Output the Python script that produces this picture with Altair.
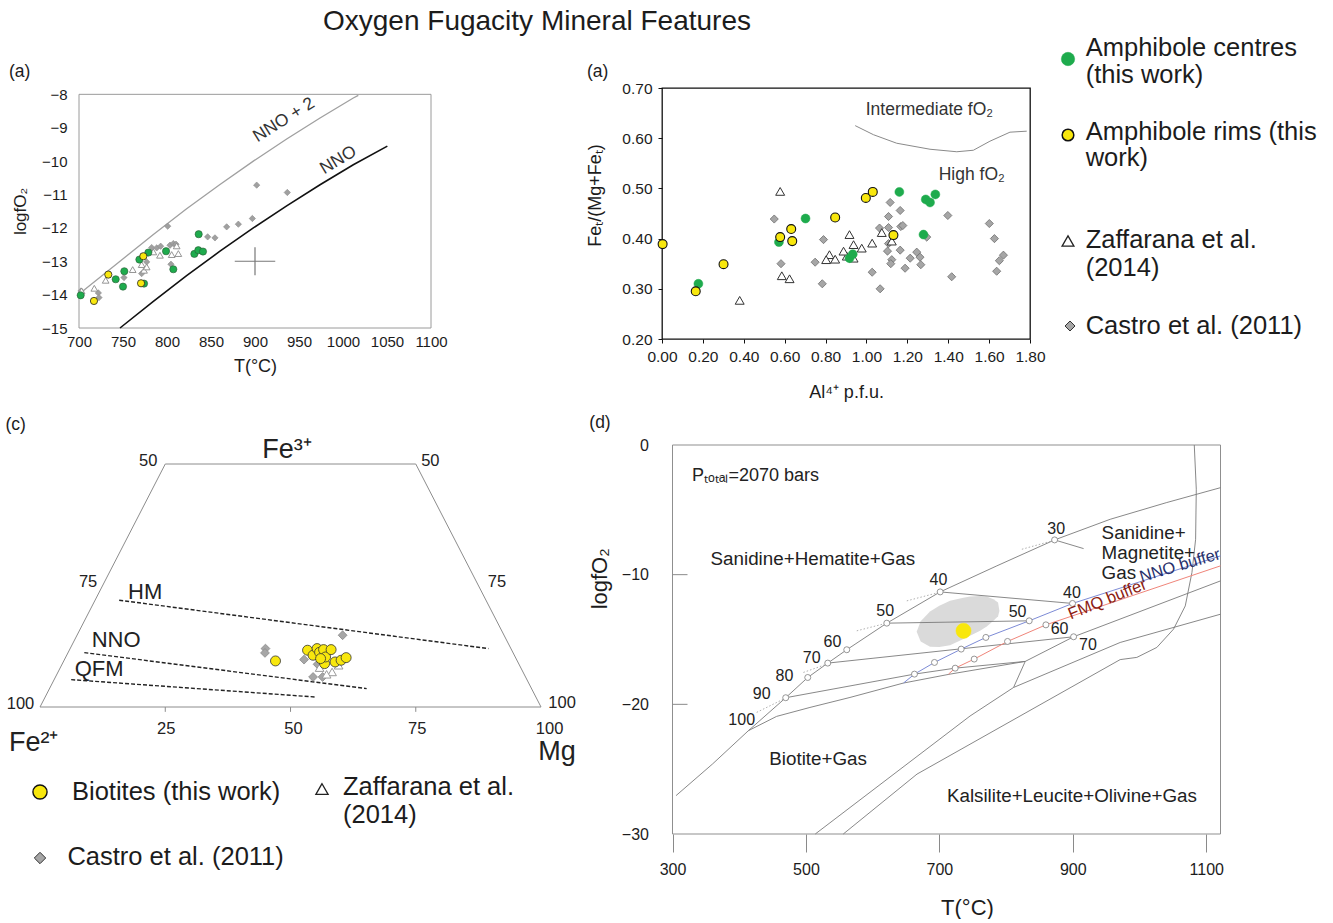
import altair as alt
import pandas as pd

FONT = "Liberation Sans"
INK = "#1c1c1c"
GREEN = "#1eab4d"
YELLOW = "#f8e70d"
GREY_FILL = "#a6a6a6"
GREY_EDGE = "#6f6f6f"

# ================= panel (a): T vs logfO2 =================
A_XTICKS = [700, 750, 800, 850, 900, 950, 1000, 1050, 1100]
A_YTICKS = [-15, -14, -13, -12, -11, -10, -9, -8]
A_FRAME_T = [700, 1100]
A_FRAME_Y = [-15, -8]
A_NNO2_T = [703.0, 746.6, 784.5, 822.3, 860.2, 898.1, 936.0, 973.9, 1011.7, 1017.4]
A_NNO2_Y = [-13.92, -13.00, -12.20, -11.43, -10.70, -10.00, -9.34, -8.71, -8.11, -8.03]
A_NNO_T = [746.6, 784.5, 822.3, 860.2, 898.1, 936.0, 973.9, 1011.7, 1050.4]
A_NNO_Y = [-15.00, -14.20, -13.43, -12.70, -12.00, -11.34, -10.71, -10.11, -9.55]
A_GREEN_T = [701.9, 741.7, 750.0, 751.5, 768.6, 773.9, 778.8, 798.9, 807.2, 831.1, 836.0, 835.6, 840.9]
A_GREEN_Y = [-14.02, -13.54, -13.76, -13.30, -12.95, -13.67, -12.74, -12.70, -13.24, -12.78, -12.19, -12.67, -12.71]
A_YELLOW_T = [717.0, 733.3, 773.1, 770.5]
A_YELLOW_Y = [-14.19, -13.40, -12.85, -13.66]
A_ZAF_T = [703.0, 717.4, 730.3, 761.0, 771.2, 773.9, 776.9, 784.5, 792.0, 805.3, 811.0, 812.9]
A_ZAF_Y = [-13.89, -13.81, -13.57, -13.25, -13.10, -13.27, -13.17, -12.72, -12.82, -12.80, -12.54, -12.77]
A_CAS_T = [702.3, 722.0, 722.7, 751.1, 771.2, 776.9, 782.6, 788.3, 792.8, 800.8, 803.4, 804.5,
           807.2, 810.2, 846.2, 854.5, 867.8, 881.1, 897.0, 901.9, 936.7]
A_CAS_Y = [-13.89, -13.95, -14.09, -13.49, -13.37, -13.02, -12.59, -12.60, -12.55, -11.95, -12.52, -13.09,
           -12.47, -12.49, -12.27, -12.30, -11.97, -11.89, -11.72, -10.72, -10.94]
A_ERR_T, A_ERR_Y, A_ERR_DT, A_ERR_DY = 900, -13.0, 23, 0.42

# ================= panel (b): Al(IV) vs Fe/(Mg+Fe) =================
B_XTICKS = [0, 0.2, 0.4, 0.6, 0.8, 1.0, 1.2, 1.4, 1.6, 1.8]
B_YTICKS = [0.2, 0.3, 0.4, 0.5, 0.6, 0.7]
B_CURVE_X = [0.945, 1.034, 1.148, 1.311, 1.442, 1.523, 1.604, 1.702, 1.784]
B_CURVE_Y = [0.625, 0.607, 0.590, 0.578, 0.573, 0.576, 0.594, 0.612, 0.614]
B_YELLOW_X = [0.003, 0.165, 0.301, 0.578, 0.632, 0.637, 0.847, 0.997, 1.031, 1.132]
B_YELLOW_Y = [0.389, 0.295, 0.349, 0.403, 0.419, 0.395, 0.442, 0.481, 0.493, 0.407]
B_GREEN_X = [0.178, 0.572, 0.702, 0.917, 0.933, 1.161, 1.279, 1.290, 1.311, 1.337]
B_GREEN_Y = [0.310, 0.393, 0.440, 0.361, 0.369, 0.493, 0.408, 0.478, 0.472, 0.488]
B_ZAF_X = [0.578, 0.380, 0.586, 0.624, 0.819, 0.803, 0.847, 0.917, 0.937, 0.977, 1.028, 1.075,
           0.904, 0.937, 1.124, 0.888]
B_ZAF_Y = [0.494, 0.277, 0.326, 0.320, 0.368, 0.358, 0.359, 0.408, 0.388, 0.381, 0.391, 0.412,
           0.365, 0.361, 0.395, 0.375]
B_CAS_X = [0.549, 0.582, 0.790, 0.749, 0.784, 1.028, 1.067, 1.064, 1.108, 1.116, 1.108, 1.103, 1.124,
           1.119, 1.165, 1.168, 1.178, 1.165, 1.189, 1.214, 1.246, 1.262, 1.266, 1.295, 1.398, 1.417,
           1.601, 1.626, 1.637, 1.650, 1.670, 1.108]
B_CAS_Y = [0.439, 0.350, 0.398, 0.353, 0.310, 0.333, 0.300, 0.421, 0.444, 0.472, 0.422, 0.375, 0.358,
           0.350, 0.456, 0.424, 0.426, 0.377, 0.341, 0.361, 0.373, 0.363, 0.348, 0.403, 0.446, 0.324,
           0.430, 0.400, 0.335, 0.356, 0.367, 0.390]
B_NOTE_TXT = ["Intermediate fO₂", "High fO₂"]
B_NOTE_X = [1.308, 1.515]
B_NOTE_Y = [0.657, 0.527]

# ================= panel (c): Fe3+ - Fe2+ - Mg ternary =================
C_FRAME_X = [0, 25, 75, 100, 0]
C_FRAME_Y = [0, 50, 50, 0, 0]
C_TICK_X = [25, 50, 75]
C_BUF = {"HM": ([15.8, 89.5], [21.98, 12.02]),
         "NNO": ([8.84, 65.2], [11.20, 3.78]),
         "QFM": ([6.22, 54.9], [5.63, 2.06])}
C_BUF_LBL_X = [21.0, 15.2, 11.8]
C_BUF_LBL_Y = [23.7, 13.8, 7.8]
C_NUM_TXT = ["100", "75", "50", "50", "75", "100", "25", "50", "75", "100"]
C_NUM_X = [-3.9, 9.6, 21.6, 77.9, 91.2, 104.2, 25.2, 50.6, 75.3, 101.7]
C_NUM_Y = [0.6, 25.8, 50.6, 50.6, 25.8, 0.9, -4.6, -4.6, -4.6, -4.6]
C_BIO_X = [47.0, 53.4, 54.5, 55.3, 55.8, 56.6, 56.8, 57.0, 58.1, 58.9, 60.1, 61.1, 56.0]
C_BIO_Y = [9.48, 11.68, 10.65, 12.02, 11.26, 11.81, 8.93, 10.30, 11.81, 9.27, 9.62, 10.16, 9.96]
C_CAS_X = [45.0, 44.9, 52.7, 54.5, 56.4, 60.4, 55.4]
C_CAS_Y = [12.02, 11.13, 9.75, 6.18, 6.18, 14.77, 8.79]
C_ZAF_X = [58.3, 55.8, 57.2, 59.6]
C_ZAF_Y = [7.21, 8.10, 6.73, 8.59]

# ================= panel (d): T vs logfO2 phase diagram =================
D_XTICKS = [300, 500, 700, 900, 1100]
D_YTICKS = [0, -10, -20, -30]
D_INNER_TICKS = [-10, -20]
D_FRAME_T = [300, 1121.4]
D_FRAME_Y = [-30, 0]
D_LINES = {
    "L1": ([305.3, 360, 413.8, 469.7, 502.7, 532.7, 561.2, 621.2, 701.2, 786.2, 872.7, 956, 1040, 1121.4],
           [-27.04, -24.6, -22.03, -19.49, -17.93, -16.82, -15.79, -13.74, -11.33, -9.32, -7.32, -5.73, -4.45, -3.29]),
    "L2": ([413.8, 456, 506, 566, 646, 716, 828.7],
           [-22.03, -20.93, -20.24, -19.47, -18.36, -17.67, -16.69]),
    "L3": ([469.7, 662.7, 723.7, 828.7], [-19.49, -17.67, -17.21, -16.69]),
    "L2b": ([828.7, 901.2, 1121.4], [-16.69, -14.79, -10.48]),
    "kink": ([828.7, 811.2], [-16.69, -18.70]),
    "K1": ([514, 746, 811.2, 971, 1121.4], [-30, -20.9, -18.7, -15.23, -13.05]),
    "K2": ([556, 666.5, 971, 996, 1026, 1051, 1068.6, 1078.6, 1084.1, 1085.1, 1082.1],
           [-30, -25.38, -16.55, -16.38, -15.61, -14.2, -12.41, -9.83, -7.27, -3.41, 0]),
    "t70": ([532.7, 901.2], [-16.82, -14.79]),
    "t50": ([621.2, 834.7], [-13.74, -13.56]),
    "t40": ([701.2, 899.6], [-11.33, -12.22]),
    "t30": ([872.7, 916.2], [-7.32, -7.99]),
}
D_DOTTED = {
    "d30": ([823.7, 868.7], [-8.04, -7.40]),
    "d40": ([651.2, 698.7], [-12.02, -11.38]),
    "d50": ([576.2, 618.7], [-14.33, -13.77]),
    "d70": ([496.2, 531.2], [-17.54, -16.90]),
    "d90": ([426.2, 466.2], [-20.62, -19.60]),
}
D_NNO_T = [646.2, 662.7, 692.7, 732.7, 769.7, 834.7, 899.6, 1121.4]
D_NNO_Y = [-18.36, -17.67, -16.77, -15.74, -14.84, -13.56, -12.22, -8.55]
D_FMQ_T = [713.7, 723.7, 752.2, 802.2, 859.7, 1121.4]
D_FMQ_Y = [-17.67, -17.21, -16.51, -15.15, -13.87, -9.32]
D_CIRC_T = [469.7, 502.7, 532.7, 561.2, 621.2, 701.2, 872.7, 899.6, 834.7, 901.2,
            662.7, 692.7, 732.7, 769.7, 723.7, 752.2, 802.2, 859.7]
D_CIRC_Y = [-19.49, -17.93, -16.82, -15.79, -13.74, -11.33, -7.32, -12.22, -13.56, -14.79,
            -17.67, -16.77, -15.74, -14.84, -17.21, -16.51, -15.15, -13.87]
D_ELL_T = [666, 672, 686, 700, 716, 736, 746, 761, 771, 781, 788, 790]
D_ELL_LO = [-14.4, -15.15, -15.56, -15.58, -15.45, -14.97, -14.72, -14.33, -14.0, -13.56, -13.2, -12.8]
D_ELL_HI = [-14.4, -13.6, -12.85, -12.4, -12.02, -11.78, -11.68, -11.65, -11.68, -11.9, -12.15, -12.8]
D_BIO_T = [736.2]
D_BIO_Y = [-14.33]
D_NUM_TXT = ["100", "90", "80", "70", "60", "50", "40", "30", "40", "50", "60", "70"]
D_NUM_T = [403.7, 433.7, 467.7, 508.7, 539.7, 618.7, 698.7, 875.2, 898.7, 817.2, 880.2, 922.7]
D_NUM_Y = [-21.2, -19.21, -17.85, -16.44, -15.23, -12.79, -10.40, -6.50, -11.38, -12.87, -14.20, -15.43]
D_REGION_TXT = ["Sanidine+Hematite+Gas", "Biotite+Gas", "Kalsilite+Leucite+Olivine+Gas"]
D_REGION_T = [510.4, 518.2, 898.7]
D_REGION_Y = [-8.81, -24.22, -27.05]
D_SMG_TXT = ["Sanidine+", "Magnetite+", "Gas"]
D_SMG_T = [943.2, 943.2, 943.2]
D_SMG_Y = [-6.75, -8.35, -9.91]
D_P_TXT = ["Pₜₒₜₐₗ=2070 bars"]
D_P_T = [329.2]
D_P_Y = [-2.39]

ONE = pd.DataFrame({"k": [0]})


def pts(xs, ys):
    return pd.DataFrame({"x": xs, "y": ys})


def poly(xs, ys):
    return pd.DataFrame({"x": xs, "y": ys, "i": list(range(len(xs)))})


def groups(d):
    rows = []
    for g, (xs, ys) in d.items():
        for i, (x, y) in enumerate(zip(xs, ys)):
            rows.append({"g": g, "i": i, "x": x, "y": y})
    return pd.DataFrame(rows)


def texts(t, xs, ys):
    return pd.DataFrame({"t": t, "x": xs, "y": ys})


def box(xs, ys):
    return pd.DataFrame({"x": [xs[0]], "x2": [xs[1]], "y": [ys[0]], "y2": [ys[1]]})


def vtext(text, x, y, size, align="left", color=INK):
    return alt.Chart(ONE).mark_text(text=text, align=align, baseline="middle", fontSize=size,
                                    color=color, font=FONT).encode(x=alt.value(x), y=alt.value(y))


def vsym(x, y, shape, size, fill, stroke, sw):
    return alt.Chart(ONE).mark_point(shape=shape, size=size, filled=True, fill=fill, stroke=stroke,
                                     strokeWidth=sw, opacity=1).encode(x=alt.value(x), y=alt.value(y))


def axis(values, title, size, tsize, **kw):
    return alt.Axis(values=values, title=title, labelFontSize=size, titleFontSize=tsize, grid=False,
                    labelFlush=False, labelOverlap=False, titleFontWeight="normal",
                    labelColor=INK, titleColor=INK, titleBaseline="middle", titleAlign="center", **kw)


# ---------------- panel (a) ----------------
XA = alt.X("x:Q", scale=alt.Scale(domain=[700, 1100], nice=False, zero=False),
           axis=axis(A_XTICKS, "T(°C)", 15, 18, format="d", domain=False, ticks=False, tickSize=0,
                     labelPadding=6, titleX=176, titleY=38))
YA = alt.Y("y:Q", scale=alt.Scale(domain=[-15, -7.81], nice=False, zero=False),
           axis=axis(A_YTICKS, "logfO₂", 15, 17, format="d", domain=False, ticks=False, tickSize=0,
                     labelPadding=12, titleX=-59, titleY=123, titleAngle=270))

a_frame = alt.Chart(box(A_FRAME_T, A_FRAME_Y)).mark_rect(
    fillOpacity=0, stroke="#9a9a9a", strokeWidth=1).encode(x=XA, x2=alt.X2("x2"), y=YA, y2=alt.Y2("y2"))
a_nno2 = alt.Chart(poly(A_NNO2_T, A_NNO2_Y)).mark_line(color="#a0a0a0", strokeWidth=1.3).encode(
    x=XA, y=YA, order="i:Q")
a_nno = alt.Chart(poly(A_NNO_T, A_NNO_Y)).mark_line(color="#111111", strokeWidth=1.6).encode(
    x=XA, y=YA, order="i:Q")
a_err = alt.Chart(pd.DataFrame({
    "x": [A_ERR_T - A_ERR_DT, A_ERR_T], "x2": [A_ERR_T + A_ERR_DT, A_ERR_T],
    "y": [A_ERR_Y, A_ERR_Y - A_ERR_DY], "y2": [A_ERR_Y, A_ERR_Y + A_ERR_DY]})).mark_rule(
    color="#777777", strokeWidth=1.2).encode(x=XA, x2=alt.X2("x2"), y=YA, y2=alt.Y2("y2"))
a_cas = alt.Chart(pts(A_CAS_T, A_CAS_Y)).mark_point(shape="diamond", filled=True, fill="#a0a0a0",
                                                    stroke="#8c8c8c", strokeWidth=0.6, size=40,
                                                    opacity=1).encode(x=XA, y=YA)
a_zaf = alt.Chart(pts(A_ZAF_T, A_ZAF_Y)).mark_point(shape="triangle-up", filled=True, fill="white",
                                                    stroke="#8a8a8a", strokeWidth=0.9, size=45,
                                                    opacity=1).encode(x=XA, y=YA)
a_green = alt.Chart(pts(A_GREEN_T, A_GREEN_Y)).mark_point(shape="circle", filled=True, fill=GREEN,
                                                          stroke="#2c5a36", strokeWidth=0.6, size=52,
                                                          opacity=1).encode(x=XA, y=YA)
a_yel = alt.Chart(pts(A_YELLOW_T, A_YELLOW_Y)).mark_point(shape="circle", filled=True, fill=YELLOW,
                                                          stroke="#222222", strokeWidth=0.8, size=52,
                                                          opacity=1).encode(x=XA, y=YA)
a_t1 = alt.Chart(texts(["NNO + 2"], [933.0], [-8.77])).mark_text(
    fontSize=17.5, font=FONT, color="#333333", angle=328).encode(x=XA, y=YA, text="t:N")
a_t2 = alt.Chart(texts(["NNO"], [994.7], [-9.97])).mark_text(
    fontSize=17.5, font=FONT, color="#333333", angle=329).encode(x=XA, y=YA, text="t:N")
anchor = alt.Chart(ONE).mark_rule(strokeWidth=0.02, strokeOpacity=0).encode(
    x=alt.value(-79), x2=alt.value(-78.98), y=alt.value(-88), y2=alt.value(-88))

panel_a = alt.layer(
    a_frame, a_nno2, a_nno, a_err, a_cas, a_zaf, a_green, a_yel, a_t1, a_t2,
    vtext("(a)", -70, -16, 17.5),
    vtext("Oxygen Fugacity Mineral Features", 458, -66, 28, align="center"),
    anchor,
).properties(width=352, height=240)

# ---------------- panel (b) ----------------
XB = alt.X("x:Q", scale=alt.Scale(domain=[0, 1.8], nice=False, zero=False),
           axis=axis(B_XTICKS, "Al⁴⁺ p.f.u.", 15.5, 18, format=".2f", domain=False, ticks=True,
                     tickSize=4, tickColor="#111", labelPadding=6, titleX=184, titleY=53))
YB = alt.Y("y:Q", scale=alt.Scale(domain=[0.2, 0.7], nice=False, zero=False),
           axis=axis(B_YTICKS, "Feₜ/(Mg+Feₜ)", 15.5, 18, format=".2f", domain=False, ticks=True,
                     tickSize=4, tickColor="#111", labelPadding=6, titleX=-67, titleY=107,
                     titleAngle=270))

b_curve = alt.Chart(poly(B_CURVE_X, B_CURVE_Y)).mark_line(color="#8a8a8a", strokeWidth=1).encode(
    x=XB, y=YB, order="i:Q")
b_cas = alt.Chart(pts(B_CAS_X, B_CAS_Y)).mark_point(shape="diamond", filled=True, fill=GREY_FILL,
                                                    stroke=GREY_EDGE, strokeWidth=0.8, size=66,
                                                    opacity=1).encode(x=XB, y=YB)
b_zaf = alt.Chart(pts(B_ZAF_X, B_ZAF_Y)).mark_point(shape="triangle-up", filled=True, fill="white",
                                                    stroke="#333333", strokeWidth=1, size=80,
                                                    opacity=1).encode(x=XB, y=YB)
b_green = alt.Chart(pts(B_GREEN_X, B_GREEN_Y)).mark_point(shape="circle", filled=True, fill=GREEN,
                                                          stroke=GREEN, strokeWidth=0.5, size=80,
                                                          opacity=1).encode(x=XB, y=YB)
b_yel = alt.Chart(pts(B_YELLOW_X, B_YELLOW_Y)).mark_point(shape="circle", filled=True, fill=YELLOW,
                                                          stroke="#111111", strokeWidth=1.1, size=80,
                                                          opacity=1).encode(x=XB, y=YB)
b_notes = alt.Chart(texts(B_NOTE_TXT, B_NOTE_X, B_NOTE_Y)).mark_text(
    fontSize=17.5, font=FONT, color="#333333").encode(x=XB, y=YB, text="t:N")

LEG = 25.5
panel_b = alt.layer(
    b_curve, b_cas, b_zaf, b_green, b_yel, b_notes,
    vtext("(a)", -75, -16, 17.5),
    vsym(406, -29, "circle", 180, GREEN, GREEN, 0.5),
    vtext("Amphibole centres", 423.7, -40, LEG),
    vtext("(this work)", 423.7, -13, LEG),
    vsym(406, 47, "circle", 135, YELLOW, "#111111", 1.5),
    vtext("Amphibole rims (this", 423.7, 43.5, LEG),
    vtext("work)", 423.7, 69.5, LEG),
    vsym(406, 153, "triangle-up", 140, "white", "#222222", 1.3),
    vtext("Zaffarana et al.", 423.7, 152, LEG),
    vtext("(2014)", 423.7, 180, LEG),
    vsym(408, 238, "diamond", 100, GREY_FILL, "#333333", 1),
    vtext("Castro et al. (2011)", 423.7, 238, LEG),
).properties(width=368, height=251, view=alt.ViewBackground(stroke="#111111", strokeWidth=1.3))

# ---------------- panel (c) ----------------
C_W = 352
XC = alt.X("x:Q", scale=alt.Scale(domain=[7.78, 7.78 + C_W / 5.01], nice=False, zero=False), axis=None)
YC = alt.Y("y:Q", scale=alt.Scale(domain=[-26.13, 53.91], nice=False, zero=False), axis=None)

c_frame = alt.Chart(poly(C_FRAME_X, C_FRAME_Y)).mark_line(color="#8c8c8c", strokeWidth=1).encode(
    x=XC, y=YC, order="i:Q")
c_ticks = alt.Chart(pd.DataFrame({"x": C_TICK_X, "y": [0] * 3, "y2": [-1.0] * 3})).mark_rule(
    color="#8c8c8c").encode(x=XC, y=YC, y2=alt.Y2("y2"))
c_buf = alt.Chart(groups(C_BUF)).mark_line(color="#222222", strokeWidth=1.4, strokeDash=[4, 2]).encode(
    x=XC, y=YC, detail="g:N", order="i:Q")
c_buf_lbl = alt.Chart(texts(list(C_BUF.keys()), C_BUF_LBL_X, C_BUF_LBL_Y)).mark_text(
    fontSize=22, font=FONT, color="#222222").encode(x=XC, y=YC, text="t:N")
c_nums = alt.Chart(texts(C_NUM_TXT, C_NUM_X, C_NUM_Y)).mark_text(
    fontSize=16.5, font=FONT, color="#222222").encode(x=XC, y=YC, text="t:N")
c_fe3 = alt.Chart(texts(["Fe³⁺"], [49.3], [52.9])).mark_text(
    fontSize=27, font=FONT, color="#222222").encode(x=XC, y=YC, text="t:N")
c_fe2 = alt.Chart(texts(["Fe²⁺"], [-6.2], [-7.5])).mark_text(
    fontSize=27, font=FONT, color="#222222", align="left").encode(x=XC, y=YC, text="t:N")
c_mg = alt.Chart(texts(["Mg"], [103.2], [-9.2])).mark_text(
    fontSize=27, font=FONT, color="#222222").encode(x=XC, y=YC, text="t:N")
c_cas = alt.Chart(pts(C_CAS_X, C_CAS_Y)).mark_point(shape="diamond", filled=True, fill=GREY_FILL,
                                                    stroke="#8a8a8a", strokeWidth=0.8, size=78,
                                                    opacity=1).encode(x=XC, y=YC)
c_zaf = alt.Chart(pts(C_ZAF_X, C_ZAF_Y)).mark_point(shape="triangle-up", filled=True, fill="white",
                                                    stroke="#9a9a9a", strokeWidth=1, size=75,
                                                    opacity=1).encode(x=XC, y=YC)
c_bio = alt.Chart(pts(C_BIO_X, C_BIO_Y)).mark_point(shape="circle", filled=True, fill=YELLOW,
                                                    stroke="#333333", strokeWidth=0.8, size=100,
                                                    opacity=1).encode(x=XC, y=YC)

panel_c = alt.layer(
    c_frame, c_ticks, c_buf, c_buf_lbl, c_nums, c_fe3, c_fe2, c_mg, c_cas, c_zaf, c_bio,
    vtext("(c)", -73.5, -20, 17.5),
    vsym(-39, 347, "circle", 200, YELLOW, "#111111", 1.4),
    vtext("Biotites (this work)", -7, 346.7, LEG),
    vsym(243, 344, "triangle-up", 150, "white", "#222222", 1.3),
    vtext("Zaffarana et al.", 264, 341.7, LEG),
    vtext("(2014)", 264, 370, LEG),
    vsym(-39, 413, "diamond", 130, GREY_FILL, "#333333", 1),
    vtext("Castro et al. (2011)", -11.6, 411.7, LEG),
).properties(width=C_W, height=389)

# ---------------- panel (d) ----------------
D_SHIFT = 10.5          # the (d) frame starts 10.5 px right of its grid column
D_PX = 0.6668           # px per degree C
XD = alt.X("x:Q", scale=alt.Scale(domain=[300 - D_SHIFT / D_PX, 1121.4], nice=False, zero=False),
           axis=axis(D_XTICKS, "T(°C)", 16, 22, format="d", domain=False, ticks=True, tickSize=18,
                     tickColor="#8a8a8a", labelPadding=9, titleX=294.5 + D_SHIFT, titleY=73.6))
YD = alt.Y("y:Q", scale=alt.Scale(domain=[-30, 0], nice=False, zero=False),
           axis=axis(D_YTICKS, "logfO₂", 16, 22, format="d", domain=False, ticks=False, tickSize=0,
                     labelPadding=24 - D_SHIFT, titleX=-73 + D_SHIFT, titleY=133.3, titleAngle=270))

d_ell = alt.Chart(pd.DataFrame({"x": D_ELL_T, "y": D_ELL_LO, "y2": D_ELL_HI})).mark_area(
    color="#dadada", opacity=1).encode(x=XD, y=YD, y2=alt.Y2("y2"))
d_frame = alt.Chart(box(D_FRAME_T, D_FRAME_Y)).mark_rect(
    fillOpacity=0, stroke="#8f8f8f", strokeWidth=1).encode(x=XD, x2=alt.X2("x2"), y=YD, y2=alt.Y2("y2"))
d_inticks = alt.Chart(pd.DataFrame({"y": D_INNER_TICKS})).mark_rule(color="#8a8a8a").encode(
    y=YD, x=alt.value(D_SHIFT), x2=alt.value(D_SHIFT + 15))
d_lines = alt.Chart(groups(D_LINES)).mark_line(color="#7a7a7a", strokeWidth=0.9).encode(
    x=XD, y=YD, detail="g:N", order="i:Q")
d_dots = alt.Chart(groups(D_DOTTED)).mark_line(color="#b0b0b0", strokeWidth=1, strokeDash=[1.5, 2]).encode(
    x=XD, y=YD, detail="g:N", order="i:Q")
d_nno = alt.Chart(poly(D_NNO_T, D_NNO_Y)).mark_line(color="#7d8bd6", strokeWidth=1).encode(
    x=XD, y=YD, order="i:Q")
d_fmq = alt.Chart(poly(D_FMQ_T, D_FMQ_Y)).mark_line(color="#f0857a", strokeWidth=1).encode(
    x=XD, y=YD, order="i:Q")
d_circ = alt.Chart(pts(D_CIRC_T, D_CIRC_Y)).mark_point(shape="circle", filled=True, fill="white",
                                                       stroke="#8a8a8a", strokeWidth=0.9, size=36,
                                                       opacity=1).encode(x=XD, y=YD)
d_bio = alt.Chart(pts(D_BIO_T, D_BIO_Y)).mark_point(shape="circle", filled=True, fill=YELLOW,
                                                    stroke=YELLOW, strokeWidth=0.5, size=230,
                                                    opacity=1).encode(x=XD, y=YD)
d_nums = alt.Chart(texts(D_NUM_TXT, D_NUM_T, D_NUM_Y)).mark_text(
    fontSize=16, font=FONT, color="#222222").encode(x=XD, y=YD, text="t:N")
d_regions = alt.Chart(texts(D_REGION_TXT, D_REGION_T, D_REGION_Y)).mark_text(
    fontSize=18.8, font=FONT, color="#222222").encode(x=XD, y=YD, text="t:N")
d_smg = alt.Chart(texts(D_SMG_TXT, D_SMG_T, D_SMG_Y)).mark_text(
    fontSize=18.8, font=FONT, color="#222222", align="left").encode(x=XD, y=YD, text="t:N")
d_p = alt.Chart(texts(D_P_TXT, D_P_T, D_P_Y)).mark_text(
    fontSize=18, font=FONT, color="#222222", align="left").encode(x=XD, y=YD, text="t:N")
d_nno_lbl = alt.Chart(texts(["NNO buffer"], [1060.6], [-9.3])).mark_text(
    fontSize=16.5, font=FONT, color="#27306b", angle=343.5).encode(x=XD, y=YD, text="t:N")
d_fmq_lbl = alt.Chart(texts(["FMQ buffer"], [952], [-11.9])).mark_text(
    fontSize=16.5, font=FONT, color="#8c1c13", angle=338).encode(x=XD, y=YD, text="t:N")

panel_d = alt.layer(
    d_ell, d_frame, d_inticks, d_lines, d_dots, d_nno, d_fmq, d_circ, d_bio, d_nums, d_regions, d_smg,
    d_p, d_nno_lbl, d_fmq_lbl,
    vtext("(d)", -83.2 + D_SHIFT, -21.7, 17.5),
).properties(width=548 + D_SHIFT, height=389)

chart = alt.concat(
    panel_a, panel_b, panel_c, panel_d,
    columns=2,
    spacing={"row": 106, "column": 231},
    bounds="flush",
    align={"row": "each", "column": "none"},
).properties(padding=0).configure(font=FONT).configure_view(strokeWidth=0)

chart.save("out.html", embed_options={"renderer": "svg", "actions": False})
